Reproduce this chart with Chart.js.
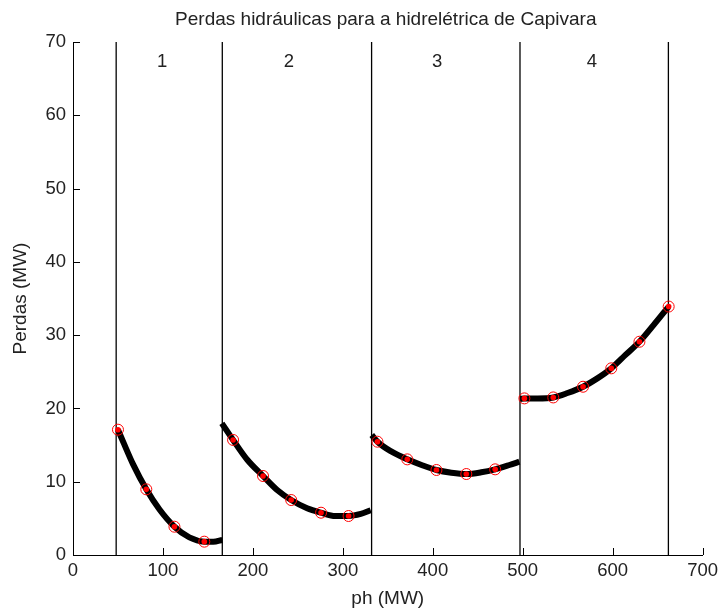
<!DOCTYPE html>
<html>
<head>
<meta charset="utf-8">
<script src="https://cdn.jsdelivr.net/npm/chart.js@4"></script>
<style>
  body { margin: 0; background: #fff; }
  #wrap { width: 723px; height: 610px; }
</style>
</head>
<body>
<div id="wrap"><canvas id="myChart" width="723" height="610"></canvas></div>
<script>
// unit boundaries (MW)
const limits = [48, 166, 332, 497, 662];
const unitNames = ["1", "2", "3", "4"];
const unitLabelX = [99, 240, 405, 577];
const unitLabelY = 67.3;

// losses curve, one list per unit
const seg1X = [50, 57.5, 66.7, 81.5, 96.2, 112.8, 129.4, 146, 156, 166];
const seg1Y = [17.1, 14.95, 12.4, 8.96, 6.2, 3.86, 2.4, 1.82, 1.8, 2.05];
const seg2X = [165.5, 178, 194, 211.3, 227, 242.6, 260.3, 275.8, 291.7, 306.4, 320, 331];
const seg2Y = [17.97, 15.7, 12.96, 10.78, 8.87, 7.5, 6.37, 5.77, 5.32, 5.32, 5.6, 6.1];
const seg3X = [332.2, 338.5, 354.3, 371.7, 387.5, 404.1, 420.7, 437.3, 453.9, 469.4, 485.3, 496.3];
const seg3Y = [16.37, 15.46, 14.1, 13.05, 12.28, 11.6, 11.23, 11.05, 11.28, 11.69, 12.28, 12.73];
const seg4X = [497, 501.9, 516.6, 534, 549.8, 567.1, 583, 598.5, 614.3, 629.8, 645.7, 662.3];
const seg4Y = [21.3, 21.37, 21.37, 21.5, 22.1, 22.96, 24.1, 25.47, 27.3, 29.1, 31.4, 33.9];

// sample points (red circles)
const sampleX = [50, 81.5, 112.8, 146, 178, 211.3, 242.6, 275.8, 306.4,
  338.5, 371.7, 404.1, 437.3, 469.4, 501.9, 534, 567.1, 598.5, 629.8, 662.3];
const sampleY = [17.1, 8.96, 3.86, 1.82, 15.7, 10.78, 7.5, 5.77, 5.32,
  15.46, 13.05, 11.6, 11.05, 11.69, 21.37, 21.5, 22.96, 25.47, 29.1, 33.9];

const chartTitle = "Perdas hidráulicas para a hidrelétrica de Capivara";

const toPoints = (xs, ys) => xs.map((x, i) => ({ x: x, y: ys[i] }));

const FONT = "'Liberation Sans', Arial, sans-serif";
const TXT = "#222";

const datasets = [];

// vertical unit separators (drawn underneath)
limits.forEach((l) => {
  datasets.push({
    data: [{ x: l, y: 0 }, { x: l, y: 70 }],
    showLine: true,
    borderColor: "#000",
    borderWidth: 1.3,
    pointRadius: 0,
    order: 4,
  });
});

[[seg1X, seg1Y], [seg2X, seg2Y], [seg3X, seg3Y], [seg4X, seg4Y]].forEach((s) => {
  datasets.push({
    data: toPoints(s[0], s[1]),
    showLine: true,
    borderColor: "#000",
    borderWidth: 6,
    cubicInterpolationMode: "monotone",
    pointRadius: 0,
    order: 3,
  });
});

// red centre dot
datasets.push({
  data: toPoints(sampleX, sampleY),
  showLine: false,
  pointStyle: "circle",
  pointRadius: 2.8,
  borderWidth: 0,
  backgroundColor: "#ff0000",
  order: 2,
});
// red circle outline
datasets.push({
  data: toPoints(sampleX, sampleY),
  showLine: false,
  pointStyle: "circle",
  pointRadius: 5.5,
  borderColor: "#ff0000",
  borderWidth: 1,
  backgroundColor: "rgba(0,0,0,0)",
  order: 1,
});

// inward tick marks, unit numbers and title
const extras = {
  id: "extras",
  afterDatasetsDraw(chart) {
    const { ctx, chartArea } = chart;
    const x = chart.scales.x;
    const y = chart.scales.y;
    ctx.save();
    ctx.strokeStyle = "#000";
    ctx.lineWidth = 1;
    x.ticks.forEach((t) => {
      const px = Math.round(x.getPixelForValue(t.value)) + 0.5;
      ctx.beginPath();
      ctx.moveTo(px, y.bottom);
      ctx.lineTo(px, y.bottom - 7);
      ctx.stroke();
    });
    y.ticks.forEach((t) => {
      const py = Math.round(y.getPixelForValue(t.value)) + 0.5;
      ctx.beginPath();
      ctx.moveTo(x.left, py);
      ctx.lineTo(x.left + 7, py);
      ctx.stroke();
    });
    ctx.fillStyle = TXT;
    ctx.textAlign = "center";
    ctx.textBaseline = "middle";
    ctx.font = "18.5px " + FONT;
    unitNames.forEach((n, i) => {
      ctx.fillText(n, x.getPixelForValue(unitLabelX[i]), y.getPixelForValue(unitLabelY));
    });
    ctx.font = "19px " + FONT;
    ctx.fillText(chartTitle, (chartArea.left + chartArea.right) / 2 - 2, 20);
    ctx.restore();
  },
};

new Chart(document.getElementById("myChart"), {
  type: "scatter",
  data: { datasets: datasets },
  options: {
    responsive: false,
    animation: false,
    layout: { padding: { top: 42, right: 1 } },
    plugins: {
      legend: { display: false },
      tooltip: { enabled: false },
      title: { display: false },
    },
    scales: {
      x: {
        type: "linear",
        min: 0,
        max: 700,
        afterFit: (scale) => { scale.height = 55; },
        ticks: { stepSize: 100, color: TXT, padding: 5, font: { family: FONT, size: 18.5 } },
        grid: { display: true, drawOnChartArea: false, drawTicks: false },
        border: { display: true, color: "#000", width: 1 },
        title: {
          display: true,
          text: "ph (MW)",
          color: TXT,
          font: { family: FONT, size: 19 },
          padding: { top: 0, bottom: 0 },
        },
      },
      y: {
        type: "linear",
        min: 0,
        max: 70,
        afterFit: (scale) => { scale.width = 73; },
        ticks: { stepSize: 10, color: TXT, padding: 7, font: { family: FONT, size: 18.5 } },
        grid: { display: true, drawOnChartArea: false, drawTicks: false },
        border: { display: true, color: "#000", width: 1 },
        title: {
          display: true,
          text: "Perdas (MW)",
          color: TXT,
          font: { family: FONT, size: 19 },
          padding: { top: 9, bottom: 0 },
        },
      },
    },
  },
  plugins: [extras],
});
</script>
</body>
</html>
